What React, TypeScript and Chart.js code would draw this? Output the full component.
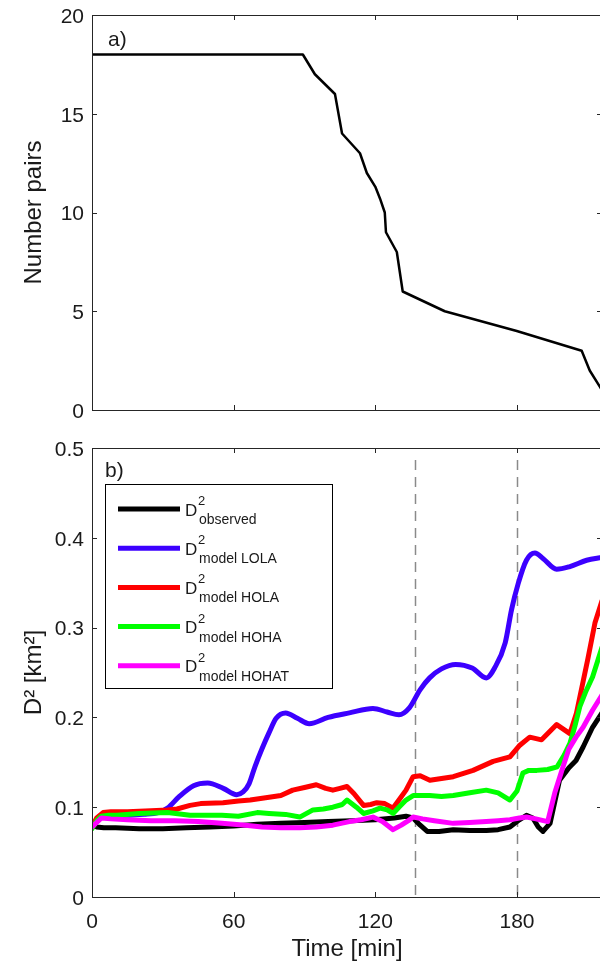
import React, { useEffect, useRef } from "react";
import { Chart, registerables } from "chart.js";
Chart.register(...registerables);

const FONT = "'Liberation Sans', Arial, Helvetica, sans-serif";
const TXT = "#1a1a1a";
const AXIS = "#262626";

// ---------- shared axis ----------
const X_MIN = 0;
const X_MAX = 216;
const X_TICKS = [0, 60, 120, 180];
const DASH_TIMES = [137, 180];

// ---------- panel a) ----------
const PAIRS_Y_TICKS = [0, 5, 10, 15, 20];
const PAIRS_T = [0, 89.3, 94.4, 102.9, 105.9, 113.5, 116.4, 120, 122, 124, 124.5, 129.1, 131.6, 149.4, 179.9, 207.4, 210.8, 215, 217];
const PAIRS_N = [18, 18, 17, 16, 14, 13, 12, 11.3, 10.7, 10, 9, 8, 6, 5, 4, 3, 2, 1.2, 0.8];

// ---------- panel b) ----------
const D2_Y_TICKS = [0, 0.1, 0.2, 0.3, 0.4, 0.5];
const LEGEND_MAIN = "D";
const LEGEND_SUP = "2";
const LEGEND_SUBS = ["observed", "model LOLA", "model HOLA", "model HOHA", "model HOHAT"];
const COLORS = ["#000000", "#3c00ff", "#ff0000", "#00ff00", "#ff00ff"];

const OBS_T = [0, 2, 5, 10, 20, 30, 40, 50, 60, 70, 80, 90, 100, 110, 120, 128, 133, 136, 139, 142, 147, 153, 160, 167, 172, 177, 181, 184, 186.7, 189, 191, 194, 198, 202, 205, 208, 212, 216];
const OBS_V = [0.080, 0.078, 0.077, 0.077, 0.076, 0.076, 0.077, 0.078, 0.079, 0.081, 0.082, 0.083, 0.084, 0.085, 0.086, 0.088, 0.090, 0.088, 0.080, 0.073, 0.073, 0.075, 0.074, 0.074, 0.075, 0.078, 0.086, 0.091, 0.088, 0.078, 0.073, 0.082, 0.130, 0.144, 0.152, 0.167, 0.189, 0.205];

const LOLA_T = [0, 2, 4, 8, 15, 22, 28, 32, 37, 43, 49, 55.6, 61.3, 64, 66.5, 69, 72, 75, 78, 82, 87, 92, 100, 109, 119, 125, 130, 134.5, 139, 143, 148, 154, 161, 167, 170.5, 175, 177.7, 180.5, 184, 187.6, 191, 196.8, 202.4, 209.5, 216];
const LOLA_V = [0.078, 0.085, 0.089, 0.090, 0.091, 0.092, 0.094, 0.099, 0.112, 0.124, 0.127, 0.121, 0.114, 0.117, 0.126, 0.145, 0.165, 0.183, 0.199, 0.205, 0.199, 0.193, 0.200, 0.205, 0.210, 0.206, 0.203, 0.211, 0.231, 0.244, 0.254, 0.259, 0.255, 0.244, 0.255, 0.283, 0.320, 0.349, 0.375, 0.383, 0.377, 0.365, 0.368, 0.375, 0.378];

const HOLA_T = [0, 2, 4.7, 8, 15, 25, 32, 36, 41.5, 46, 55.5, 62, 67, 75, 80, 85, 90, 95, 99, 102, 105, 108, 111, 115, 118, 120.6, 124, 127.5, 130, 133, 136, 139, 143.1, 153, 161.4, 169.9, 177, 181.2, 185.4, 190.4, 196.8, 202.4, 205.2, 208, 210, 213, 216];
const HOLA_V = [0.078, 0.088, 0.094, 0.095, 0.095, 0.096, 0.097, 0.098, 0.102, 0.104, 0.105, 0.107, 0.108, 0.111, 0.113, 0.119, 0.122, 0.125, 0.121, 0.119, 0.121, 0.123, 0.115, 0.102, 0.103, 0.105, 0.104, 0.099, 0.108, 0.119, 0.134, 0.135, 0.130, 0.134, 0.141, 0.151, 0.156, 0.169, 0.178, 0.175, 0.192, 0.182, 0.205, 0.240, 0.265, 0.305, 0.330];

const HOHA_T = [0, 2, 4, 7, 10.5, 20, 32, 41.5, 55, 62, 70, 75, 82, 88, 93.6, 98, 102, 106, 108, 112, 115, 119, 122, 125, 127.5, 130, 133, 136, 139, 143, 148, 153, 160, 167, 172, 177, 180, 182.5, 185, 188.4, 193, 197, 200, 202.4, 204.5, 206.6, 209, 212, 216];
const HOHA_V = [0.076, 0.085, 0.090, 0.091, 0.091, 0.093, 0.094, 0.091, 0.091, 0.090, 0.094, 0.093, 0.092, 0.089, 0.097, 0.098, 0.100, 0.103, 0.108, 0.100, 0.093, 0.096, 0.099, 0.097, 0.093, 0.100, 0.108, 0.113, 0.113, 0.113, 0.112, 0.113, 0.116, 0.119, 0.116, 0.108, 0.118, 0.138, 0.141, 0.141, 0.142, 0.145, 0.158, 0.171, 0.190, 0.212, 0.228, 0.245, 0.278];

const HOHAT_T = [0, 2, 4, 8, 15, 25, 35, 45, 55, 65, 72, 80, 88, 95, 102, 109, 114, 119, 123, 127.5, 131, 134, 136, 140, 145, 153, 160, 167, 172, 177, 181, 184, 188, 193, 196, 199.5, 202, 205, 208, 212, 216];
const HOHAT_V = [0.078, 0.083, 0.088, 0.087, 0.086, 0.085, 0.085, 0.084, 0.082, 0.080, 0.078, 0.077, 0.077, 0.078, 0.080, 0.084, 0.086, 0.089, 0.084, 0.075, 0.080, 0.085, 0.089, 0.087, 0.085, 0.082, 0.083, 0.084, 0.085, 0.086, 0.088, 0.089, 0.087, 0.084, 0.116, 0.145, 0.165, 0.178, 0.189, 0.208, 0.225];

const SERIES_T = [OBS_T, LOLA_T, HOLA_T, HOHA_T, HOHAT_T];
const SERIES_V = [OBS_V, LOLA_V, HOLA_V, HOHA_V, HOHAT_V];

const pts = (t: number[], v: number[]) => t.map((x, i) => ({ x, y: v[i] }));

// frame + inward tick marks (MATLAB style)
const framePlugin = {
  id: "frameTicks",
  afterDatasetsDraw(chart: any) {
    const { ctx, chartArea } = chart;
    const { left, right, top, bottom } = chartArea;
    const xs = chart.scales.x;
    const ys = chart.scales.y;
    const L = 5;
    ctx.save();
    ctx.strokeStyle = AXIS;
    ctx.lineWidth = 1;
    ctx.strokeRect(Math.round(left) + 0.5, Math.round(top) + 0.5, Math.round(right - left), Math.round(bottom - top));
    ctx.beginPath();
    for (const t of xs.ticks) {
      const px = Math.round(xs.getPixelForValue(t.value)) + 0.5;
      ctx.moveTo(px, bottom);
      ctx.lineTo(px, bottom - L);
      ctx.moveTo(px, top);
      ctx.lineTo(px, top + L);
    }
    for (const t of ys.ticks) {
      const py = Math.round(ys.getPixelForValue(t.value)) + 0.5;
      ctx.moveTo(left, py);
      ctx.lineTo(left + L, py);
      ctx.moveTo(right, py);
      ctx.lineTo(right - L, py);
    }
    ctx.stroke();
    // panel label
    const label = chart.options.plugins.frameTicks?.label;
    if (label) {
      ctx.fillStyle = TXT;
      ctx.font = `21px ${FONT}`;
      ctx.textBaseline = "middle";
      ctx.textAlign = "left";
      ctx.fillText(label.text, left + label.dx, top + label.dy);
    }
    ctx.restore();
  },
};

const dashPlugin = {
  id: "dashLines",
  beforeDatasetsDraw(chart: any) {
    const { ctx, chartArea } = chart;
    const xs = chart.scales.x;
    ctx.save();
    ctx.strokeStyle = "#8a8a8a";
    ctx.lineWidth = 1.5;
    ctx.setLineDash([10, 7]);
    for (const t of DASH_TIMES) {
      const px = Math.round(xs.getPixelForValue(t)) + 0.5;
      ctx.beginPath();
      ctx.moveTo(px, chartArea.top + 12);
      ctx.lineTo(px, chartArea.bottom);
      ctx.stroke();
    }
    ctx.restore();
  },
};

const legendPlugin = {
  id: "mathLegend",
  afterDraw(chart: any) {
    const { ctx, chartArea } = chart;
    const { left, top } = chartArea;
    ctx.save();
    const bx = left + 13, by = top + 36, bw = 227, bh = 204;
    ctx.fillStyle = "#ffffff";
    ctx.fillRect(bx, by, bw, bh);
    ctx.strokeStyle = "#000000";
    ctx.lineWidth = 1;
    ctx.strokeRect(Math.round(bx) + 0.5, Math.round(by) + 0.5, bw, bh);
    LEGEND_SUBS.forEach((sub, i) => {
      const y = top + 61 + i * 39.2;
      ctx.strokeStyle = COLORS[i];
      ctx.lineWidth = 5;
      ctx.beginPath();
      ctx.moveTo(left + 26, y);
      ctx.lineTo(left + 88, y);
      ctx.stroke();
      ctx.fillStyle = TXT;
      ctx.textAlign = "left";
      ctx.textBaseline = "alphabetic";
      ctx.font = `17px ${FONT}`;
      ctx.fillText(LEGEND_MAIN, left + 93, y + 6.5);
      ctx.font = `13px ${FONT}`;
      ctx.fillText(LEGEND_SUP, left + 106, y - 4);
      ctx.font = `14px ${FONT}`;
      ctx.fillText(sub, left + 107, y + 15);
    });
    ctx.restore();
  },
};

function xScale(show: boolean) {
  return {
    type: "linear",
    min: X_MIN,
    max: X_MAX,
    afterBuildTicks: (s: any) => {
      s.ticks = X_TICKS.map((v) => ({ value: v }));
    },
    afterFit: (s: any) => {
      s.height = show ? 67 : 20;
      s.paddingLeft = 0;
      s.paddingRight = 0;
    },
    grid: { display: false, drawTicks: false },
    border: { display: false },
    ticks: {
      display: show,
      autoSkip: false,
      maxRotation: 0,
      padding: 13,
      color: TXT,
      font: { family: FONT, size: 21 },
      callback: (v: any) => String(v),
    },
    title: show
      ? { display: true, text: "Time [min]", color: TXT, font: { family: FONT, size: 24 }, padding: { top: 0, bottom: 0 } }
      : { display: false },
  };
}

function yScale(min: number, max: number, ticks: number[], title: string, fmt: (v: number) => string) {
  return {
    type: "linear",
    min,
    max,
    afterBuildTicks: (s: any) => {
      s.ticks = ticks.map((v) => ({ value: v }));
    },
    afterFit: (s: any) => {
      s.width = 92;
      s.paddingTop = 0;
      s.paddingBottom = 0;
    },
    grid: { display: false, drawTicks: false },
    border: { display: false },
    ticks: {
      autoSkip: false,
      padding: 8,
      labelOffset: 2,
      color: TXT,
      font: { family: FONT, size: 21 },
      callback: (v: any) => fmt(Number(v)),
    },
    title: { display: true, text: title, color: TXT, font: { family: FONT, size: 24 }, padding: { top: 20, bottom: 0 } },
  };
}

function PanelA() {
  const ref = useRef<HTMLCanvasElement>(null);
  useEffect(() => {
    const chart = new Chart(ref.current!, {
      type: "line",
      data: {
        datasets: [
          {
            data: pts(PAIRS_T, PAIRS_N),
            borderColor: "#000000",
            borderWidth: 2.5,
            pointRadius: 0,
            tension: 0,
            borderJoinStyle: "round",
          },
        ],
      },
      options: {
        responsive: false,
        animation: false,
        layout: { padding: { top: 15, right: 2, left: 0, bottom: 0 } },
        scales: {
          x: xScale(false) as any,
          y: yScale(0, 20, PAIRS_Y_TICKS, "Number pairs", (v) => String(v)) as any,
        },
        plugins: {
          legend: { display: false },
          tooltip: { enabled: false },
          frameTicks: { label: { text: "a)", dx: 16, dy: 25 } } as any,
        },
      },
      plugins: [framePlugin],
    });
    return () => chart.destroy();
  }, []);
  return <canvas ref={ref} width={604} height={430} style={{ position: "absolute", left: 0, top: 0 }} />;
}

function PanelB() {
  const ref = useRef<HTMLCanvasElement>(null);
  useEffect(() => {
    const order = [4, 3, 2, 1, 0];
    const chart = new Chart(ref.current!, {
      type: "line",
      data: {
        datasets: LEGEND_SUBS.map((sub, i) => ({
          label: LEGEND_MAIN + LEGEND_SUP + " " + sub,
          data: pts(SERIES_T[i], SERIES_V[i]),
          borderColor: COLORS[i],
          borderWidth: 5,
          pointRadius: 0,
          order: order[i],
          borderJoinStyle: "round",
          borderCapStyle: "round",
          tension: i === 1 ? 0.4 : 0,
          cubicInterpolationMode: i === 1 ? "monotone" : "default",
        })) as any,
      },
      options: {
        responsive: false,
        animation: false,
        layout: { padding: { top: 18, right: 2, left: 0, bottom: 0 } },
        scales: {
          x: xScale(true) as any,
          y: yScale(0, 0.5, D2_Y_TICKS, "D² [km²]", (v) => (v === 0 ? "0" : v.toFixed(1))) as any,
        },
        plugins: {
          legend: { display: false },
          tooltip: { enabled: false },
          frameTicks: { label: { text: "b)", dx: 13, dy: 23 } } as any,
        },
      },
      plugins: [dashPlugin, framePlugin, legendPlugin],
    });
    return () => chart.destroy();
  }, []);
  return <canvas ref={ref} width={604} height={534} style={{ position: "absolute", left: 0, top: 430 }} />;
}

export default function App() {
  return (
    <div
      style={{
        position: "fixed",
        left: 0,
        top: 0,
        width: 600,
        height: 964,
        overflow: "hidden",
        background: "#ffffff",
      }}
    >
      <PanelA />
      <PanelB />
    </div>
  );
}
